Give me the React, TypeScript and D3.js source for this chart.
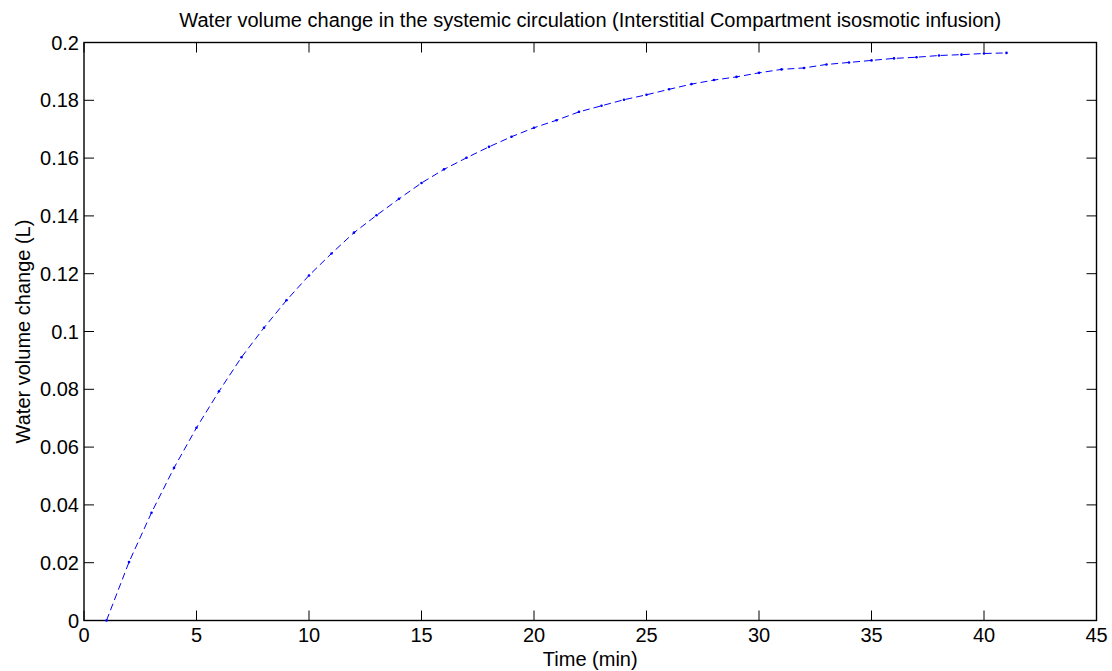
import React, { useEffect, useRef } from 'react';
import * as d3 from 'd3';

// time points (min)
const timeMin = [
  1, 2, 3, 4, 5, 6, 7, 8, 9, 10, 11, 12, 13, 14, 15, 16, 17, 18, 19, 20, 21,
  22, 23, 24, 25, 26, 27, 28, 29, 30, 31, 32, 33, 34, 35, 36, 37, 38, 39, 40, 41,
];

// water volume change (L)
const volumeChange = [
  0.0, 0.0202, 0.0373, 0.0528, 0.0667, 0.0793, 0.0911, 0.1013, 0.1108, 0.1194,
  0.127, 0.1342, 0.1402, 0.1459, 0.1514, 0.1561, 0.1601, 0.1639, 0.1674, 0.1705,
  0.1731, 0.176, 0.1781, 0.1802, 0.1819, 0.1838, 0.1856, 0.187, 0.1881, 0.1895,
  0.1907, 0.1912, 0.1924, 0.1931, 0.1938, 0.1945, 0.1949, 0.1955, 0.1958, 0.1962,
  0.1964,
];

const xTicks = [0, 5, 10, 15, 20, 25, 30, 35, 40, 45];
const yTicks = [0, 0.02, 0.04, 0.06, 0.08, 0.1, 0.12, 0.14, 0.16, 0.18, 0.2];

const title =
  'Water volume change in the systemic circulation (Interstitial Compartment isosmotic infusion)';
const xLabel = 'Time (min)';
const yLabel = 'Water volume change (L)';

export default function App() {
  const ref = useRef<SVGSVGElement>(null);

  useEffect(() => {
    const width = 1112;
    const height = 671;
    const margin = { top: 42.5, right: 15.5, bottom: 50.5, left: 84 };
    const font = '"Liberation Sans", Arial, sans-serif';
    const fontSize = '20px';
    const tickLen = 10;

    const svg = d3.select(ref.current);
    svg.selectAll('*').remove();

    const x = d3
      .scaleLinear()
      .domain([0, 45])
      .range([margin.left, width - margin.right]);

    const y = d3
      .scaleLinear()
      .domain([0, 0.2])
      .range([height - margin.bottom, margin.top]);

    const g = svg.append('g');

    // ticks (inside, on all four sides)
    xTicks.forEach((t) => {
      g.append('line')
        .attr('x1', x(t)).attr('x2', x(t))
        .attr('y1', y(0)).attr('y2', y(0) - tickLen)
        .attr('stroke', '#000').attr('stroke-width', 1);
      g.append('line')
        .attr('x1', x(t)).attr('x2', x(t))
        .attr('y1', y(0.2)).attr('y2', y(0.2) + tickLen)
        .attr('stroke', '#000').attr('stroke-width', 1);
      g.append('text')
        .attr('x', x(t))
        .attr('y', y(0) + 21.5)
        .attr('text-anchor', 'middle')
        .style('font-family', font)
        .style('font-size', fontSize)
        .text(String(t));
    });

    yTicks.forEach((t) => {
      g.append('line')
        .attr('x1', x(0)).attr('x2', x(0) + tickLen)
        .attr('y1', y(t)).attr('y2', y(t))
        .attr('stroke', '#000').attr('stroke-width', 1);
      g.append('line')
        .attr('x1', x(45)).attr('x2', x(45) - tickLen)
        .attr('y1', y(t)).attr('y2', y(t))
        .attr('stroke', '#000').attr('stroke-width', 1);
      g.append('text')
        .attr('x', x(0) - 5)
        .attr('y', y(t) + 7)
        .attr('text-anchor', 'end')
        .style('font-family', font)
        .style('font-size', fontSize)
        .text(String(t));
    });

    // axes box
    g.append('rect')
      .attr('x', x(0))
      .attr('y', y(0.2))
      .attr('width', x(45) - x(0))
      .attr('height', y(0) - y(0.2))
      .attr('fill', 'none')
      .attr('stroke', '#000')
      .attr('stroke-width', 1.4);

    const points = timeMin.map((t, i) => [t, volumeChange[i]] as [number, number]);

    const line = d3
      .line<[number, number]>()
      .x((d) => x(d[0]))
      .y((d) => y(d[1]));

    g.append('path')
      .datum(points)
      .attr('d', line)
      .attr('fill', 'none')
      .attr('stroke', '#0000ff')
      .attr('stroke-width', 1)
      .attr('stroke-dasharray', '7,4');

    // point markers
    g.selectAll('.dot')
      .data(points)
      .enter()
      .append('circle')
      .attr('cx', (d) => x(d[0]))
      .attr('cy', (d) => y(d[1]))
      .attr('r', 1.3)
      .attr('fill', '#0000ff');

    // title and labels
    g.append('text')
      .attr('x', (x(0) + x(45)) / 2)
      .attr('y', 27)
      .attr('text-anchor', 'middle')
      .style('font-family', font)
      .style('font-size', fontSize)
      .text(title);

    g.append('text')
      .attr('x', (x(0) + x(45)) / 2)
      .attr('y', 665.5)
      .attr('text-anchor', 'middle')
      .style('font-family', font)
      .style('font-size', fontSize)
      .text(xLabel);

    g.append('text')
      .attr('transform', `translate(30,${(y(0) + y(0.2)) / 2}) rotate(-90)`)
      .attr('text-anchor', 'middle')
      .style('font-family', font)
      .style('font-size', fontSize)
      .text(yLabel);
  });

  return (
    <svg
      ref={ref}
      width={1112}
      height={671}
      style={{ position: 'absolute', left: 0, top: 0, background: '#fff' }}
    />
  );
}
